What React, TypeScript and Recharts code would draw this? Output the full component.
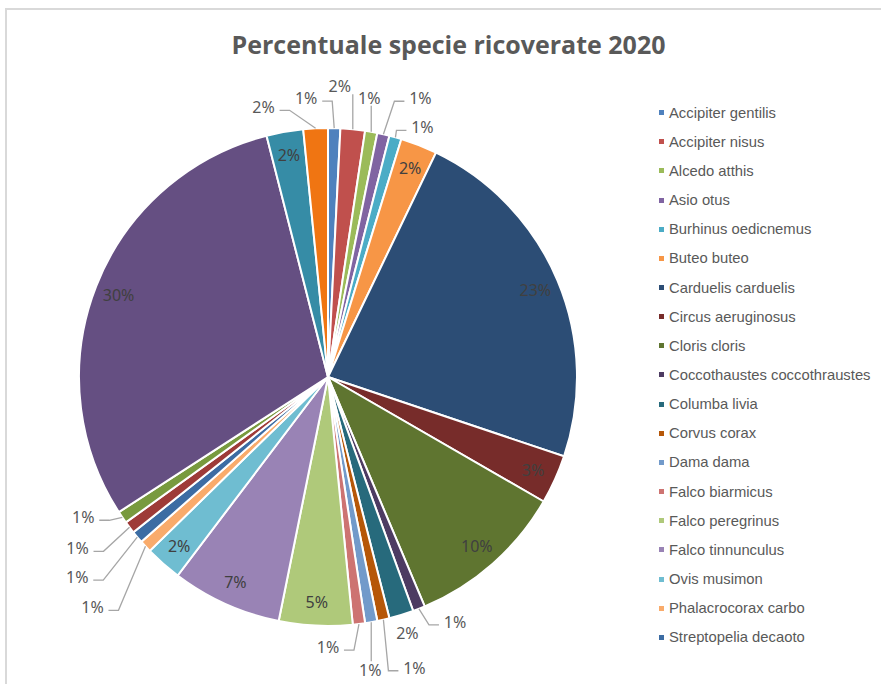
import React from 'react';
import { PieChart, Pie, Cell, Legend } from 'recharts';

const SPECIES: string[] = [
  'Accipiter gentilis',
  'Accipiter nisus',
  'Alcedo atthis',
  'Asio otus',
  'Burhinus oedicnemus',
  'Buteo buteo',
  'Carduelis carduelis',
  'Circus aeruginosus',
  'Cloris cloris',
  'Coccothaustes coccothraustes',
  'Columba livia',
  'Corvus corax',
  'Dama dama',
  'Falco biarmicus',
  'Falco peregrinus',
  'Falco tinnunculus',
  'Ovis musimon',
  'Phalacrocorax carbo',
  'Streptopelia decaoto',
  'Strix aluco',
  'Sturnus vulgaris',
  'Turdus merula',
  'Tyto alba',
  'Upupa epops',
];

const COUNTS: number[] = [1, 2, 1, 1, 1, 3, 29, 4, 13, 1, 2, 1, 1, 1, 6, 9, 3, 1, 1, 1, 1, 38, 3, 2];

const COLORS: string[] = [
  '#4F81BD', '#C0504D', '#9BBB59', '#8064A2', '#4BACC6', '#F79646',
  '#2C4D75', '#772C2A', '#5F7530', '#4D3B62', '#276A7C', '#B65708',
  '#729ACA', '#CD7371', '#AFC97A', '#9983B5', '#6FBDD1', '#F9AB6B',
  '#3C6CA3', '#9E3B38', '#789A3E', '#654F82', '#368CA6', '#F07512',
];

const LEGEND_VISIBLE = 19;

const data = SPECIES.map((name, i) => ({ name, value: COUNTS[i] }));

// label placement offsets (from slice outer-arc midpoint) for labels drawn outside the pie
const OUTSIDE_OFFSETS: Record<number, [number, number]> = {
  0: [-28, -30],
  1: [-13, -43],
  2: [-2, -34],
  3: [37, -36],
  4: [27, -10],
  9: [36, 13],
  10: [6, 18],
  11: [31, 48],
  12: [-1, 48],
  13: [-31, 23],
  17: [-53, 61],
  18: [-60, 40],
  19: [-52, 21],
  20: [-39, 0],
  23: [-52, -21],
};

const RAD = Math.PI / 180;
const LABEL_FONT = '"Noto Sans", "Open Sans", sans-serif';

const renderLabel = (props: any) => {
  const { cx, cy, midAngle, outerRadius, percent, index } = props;
  const text = `${Math.round(percent * 100)}%`;
  const cos = Math.cos(-midAngle * RAD);
  const sin = Math.sin(-midAngle * RAD);
  const off = OUTSIDE_OFFSETS[index];
  if (!off) {
    const r = outerRadius - 24;
    const x = cx + r * cos;
    const y = cy + r * sin;
    return (
      <text
        key={`l-${index}`}
        x={x}
        y={y}
        textAnchor="middle"
        dominantBaseline="central"
        fill="#404040"
        fontSize={16}
        fontFamily={LABEL_FONT}
      >
        {text}
      </text>
    );
  }
  const ax = cx + outerRadius * cos;
  const ay = cy + outerRadius * sin;
  const lx = ax + off[0];
  const ly = ay + off[1];
  const halfW = 12;
  let points: string | null = null;
  const dist = Math.hypot(off[0], off[1]);
  if (dist > 22) {
    if (Math.abs(off[0]) <= 14) {
      const ey = off[1] < 0 ? ly + 8 : ly - 9;
      points = `${ax},${ay} ${ax},${ey}`;
    } else {
      const dir = off[0] < 0 ? 1 : -1; // end side toward anchor
      const ex = lx + dir * (halfW + 4);
      const ey = ly + 3;
      const elx = ex + dir * 10;
      points = `${ax},${ay} ${elx},${ey} ${ex},${ey}`;
    }
  }
  return (
    <g key={`l-${index}`}>
      {points && <polyline points={points} fill="none" stroke="#A6A6A6" strokeWidth={1.3} />}
      <text
        x={lx}
        y={ly}
        textAnchor="middle"
        dominantBaseline="central"
        fill="#595959"
        fontSize={16}
        fontFamily={LABEL_FONT}
      >
        {text}
      </text>
    </g>
  );
};

const renderLegend = () => (
  <div style={{ fontFamily: '"Liberation Sans", Arial, sans-serif', fontSize: 14.8, color: '#595959' }}>
    {SPECIES.slice(0, LEGEND_VISIBLE).map((name, i) => (
      <div key={name} style={{ height: 29.17, display: 'flex', alignItems: 'center', whiteSpace: 'nowrap' }}>
        <span
          style={{
            display: 'inline-block',
            width: 5,
            height: 5,
            background: COLORS[i],
            marginRight: 5,
          }}
        />
        <span>{name}</span>
      </div>
    ))}
  </div>
);

export default function App() {
  return (
    <div style={{ position: 'absolute', left: 0, top: 0, width: 881, height: 684, background: '#fff', overflow: 'hidden' }}>
      <div
        style={{
          position: 'absolute',
          left: 5,
          top: 8,
          width: 900,
          height: 700,
          borderLeft: '2px solid #D9D9D9',
          borderTop: '2px solid #D9D9D9',
          boxSizing: 'border-box',
        }}
      />
      <div
        style={{
          position: 'absolute',
          left: 0,
          top: 27,
          width: 897,
          textAlign: 'center',
          fontFamily: '"Open Sans", "Noto Sans", sans-serif',
          fontWeight: 700,
          fontSize: 25,
          color: '#595959',
          lineHeight: '34px',
        }}
      >
        Percentuale specie ricoverate 2020
      </div>
      <div style={{ position: 'absolute', left: 0, top: 0 }}>
        <PieChart width={881} height={684} margin={{ top: 0, right: 0, bottom: 0, left: 0 }}>
          <Pie
            data={data}
            dataKey="value"
            nameKey="name"
            cx={328}
            cy={377}
            outerRadius={249}
            startAngle={90}
            endAngle={-270}
            stroke="#FFFFFF"
            strokeWidth={2}
            label={renderLabel}
            labelLine={false}
            isAnimationActive={false}
          >
            {data.map((d, i) => (
              <Cell key={d.name} fill={COLORS[i]} />
            ))}
          </Pie>
          <Legend
            layout="vertical"
            align="right"
            verticalAlign="top"
            content={renderLegend}
            wrapperStyle={{ position: 'absolute', left: 659, top: 98, width: 222 }}
          />
        </PieChart>
      </div>
    </div>
  );
}
